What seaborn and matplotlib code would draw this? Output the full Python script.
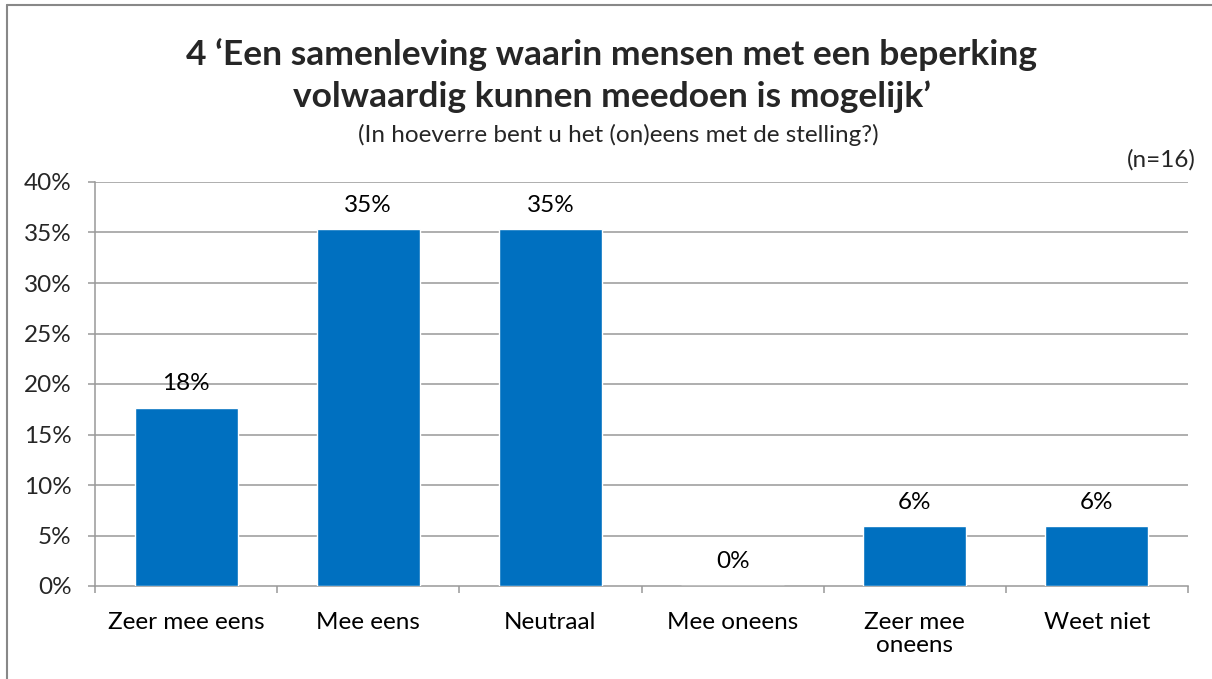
import matplotlib
matplotlib.use("Agg")
import matplotlib.pyplot as plt
import seaborn as sns
import pandas as pd
from matplotlib.lines import Line2D

categories = ["Zeer mee eens", "Mee eens", "Neutraal", "Mee oneens", "Zeer mee\noneens", "Weet niet"]
values = [17.6, 35.3, 35.3, 0.0, 5.9, 5.9]
labels = ["18%", "35%", "35%", "0%", "6%", "6%"]
yticks = [0, 5, 10, 15, 20, 25, 30, 35, 40]

title_lines = ["4 \u2018Een samenleving waarin mensen met een beperking",
               "volwaardig kunnen meedoen is mogelijk\u2019"]
subtitle = "(In hoeverre bent u het (on)eens met de stelling?)"
ntext = "(n=16)"

sns.set_theme(style="white")
plt.rcParams['font.family'] = ['Lato', 'DejaVu Sans']

W, H = 1212, 679
fig = plt.figure(figsize=(W / 100, H / 100), dpi=100)
ax = fig.add_axes([95 / W, 1 - 586 / H, (1188 - 95) / W, (586 - 182) / H])

df = pd.DataFrame({"cat": categories, "val": values})
sns.barplot(data=df, x="cat", y="val", color="#0070C0", saturation=1, width=0.565, ax=ax, zorder=3)

grid_c = "#999999"
fs = 17.5
ax.set_ylim(0, 40)
ax.set_xlim(-0.5, len(categories) - 0.5)
ax.set_yticks(yticks)
ax.set_yticklabels([f"{v}%" for v in yticks])
for v in yticks[1:]:
    ax.axhline(v, color=grid_c, lw=1.1, zorder=1)

ax.set_xticks(range(len(categories)))
ax.set_xticklabels(categories, linespacing=1.1)
ax.set_xlabel("")
ax.set_ylabel("")
ax.tick_params(axis="x", length=0, pad=19, labelsize=fs, colors="black")
ax.tick_params(axis="y", length=5, width=1.1, color=grid_c, pad=12, labelsize=fs, left=True)
ax.set_xticks([i - 0.5 for i in range(len(categories) + 1)], minor=True)
ax.tick_params(axis="x", which="minor", length=5, width=1.1, color=grid_c, bottom=True, direction="out")

for s in ["top", "right"]:
    ax.spines[s].set_visible(False)
for s in ["left", "bottom"]:
    ax.spines[s].set_color(grid_c)
    ax.spines[s].set_linewidth(1.1)

for i, (v, lab) in enumerate(zip(values, labels)):
    ax.annotate(lab, (i, v), xytext=(0, 10), textcoords="offset points",
                ha="center", va="bottom", fontsize=fs, color="black")

fig.text(612 / W, 1 - 55 / H, title_lines[0], ha="center", va="center", fontsize=25.5, fontweight="bold")
fig.text(612 / W, 1 - 97 / H, title_lines[1], ha="center", va="center", fontsize=25.5, fontweight="bold")
fig.text(618 / W, 1 - 135 / H, subtitle, ha="center", va="center", fontsize=17.5)
fig.text(1196 / W, 1 - 160 / H, ntext, ha="right", va="center", fontsize=17.5)

# outer frame (top and left edges visible)
fig.add_artist(Line2D([6.5 / W, 1], [1 - 4.5 / H, 1 - 4.5 / H], transform=fig.transFigure, color="#888888", lw=1.5))
fig.add_artist(Line2D([6.5 / W, 6.5 / W], [0, 1 - 4.5 / H], transform=fig.transFigure, color="#888888", lw=1.5))

fig.savefig("out.png", dpi=100, facecolor="white")
